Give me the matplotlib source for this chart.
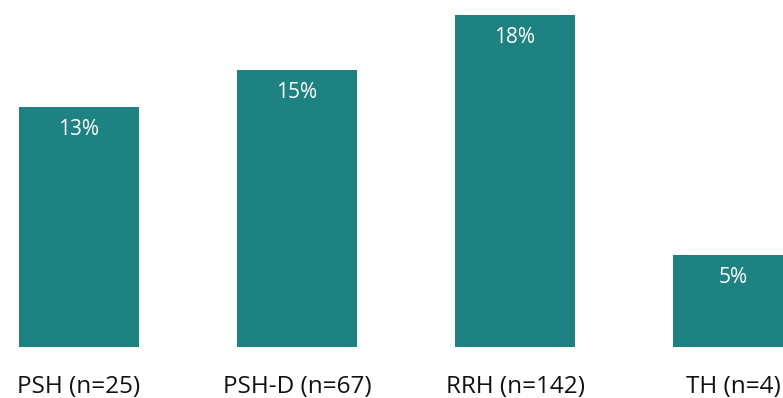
import matplotlib
matplotlib.use("Agg")
import matplotlib.pyplot as plt

categories = ["PSH (n=25)", "PSH-D (n=67)", "RRH (n=142)", "TH (n=4)"]
values = [13, 15, 18, 5]
value_labels = ["13%", "15%", "18%", "5%"]

bar_color = "#1f8282"

plt.rcParams["font.family"] = ["Open Sans", "DejaVu Sans"]

fig = plt.figure(figsize=(7.83, 3.98), dpi=100)
ax = fig.add_axes([0, 0.128, 1, 0.872])

x = list(range(len(categories)))
bars = ax.bar(x, values, width=0.55, color=bar_color)

for b, lab in zip(bars, value_labels):
    ax.annotate(lab, (b.get_x() + b.get_width() / 2, b.get_height()),
                xytext=(0, -16.5), textcoords="offset points",
                ha="center", va="center", color="white", fontsize=15)

ax.set_xlim(-0.3624, 3.229)
ax.set_ylim(0, 18.79)
ax.set_xticks(x)
ax.set_xticklabels(categories, fontsize=17.5, color="#111111")
ax.tick_params(axis="x", length=0, pad=20)
ax.set_yticks([])
for s in ax.spines.values():
    s.set_visible(False)

fig.savefig("out.png", dpi=100)
